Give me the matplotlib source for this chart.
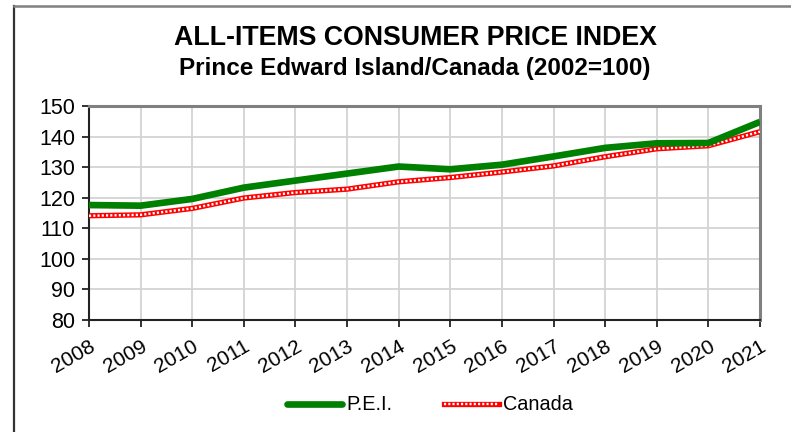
import matplotlib
matplotlib.use("Agg")
import matplotlib.pyplot as plt
from matplotlib.lines import Line2D
import numpy as np

plt.rcParams['font.family'] = ['Liberation Sans', 'DejaVu Sans']

years = ["2008", "2009", "2010", "2011", "2012", "2013", "2014",
         "2015", "2016", "2017", "2018", "2019", "2020", "2021"]
pei = [117.6, 117.4, 119.6, 123.3, 125.6, 127.9, 130.2,
       129.3, 130.8, 133.5, 136.3, 137.8, 137.9, 144.8]
canada = [114.1, 114.4, 116.5, 119.9, 121.7, 122.8, 125.2,
          126.6, 128.4, 130.4, 133.4, 136.0, 137.0, 141.6]
yticks = [80, 90, 100, 110, 120, 130, 140, 150]

W, H = 791, 432
fig = plt.figure(figsize=(W / 100, H / 100), dpi=100)
fig.patch.set_facecolor('white')
ax = fig.add_axes([89 / W, 1 - 320 / H, (760 - 89) / W, (320 - 106) / H])

x = np.arange(len(years))
ax.plot(x, pei, color='#008000', lw=4.8, solid_capstyle='butt', zorder=4)
ax.plot(x, canada, color='#ff0000', lw=3.8, solid_capstyle='butt', zorder=3)
ax.plot(x, canada, color='white', lw=1.7, dashes=(0.9, 0.9), zorder=3.5)

ax.set_xlim(0, len(years) - 1)
ax.set_ylim(80, 150)
ax.set_yticks(yticks)
ax.set_yticklabels([str(v) for v in yticks], fontsize=15.5)
ax.set_xticks(x)
ax.set_xticklabels(years, fontsize=15, rotation=30, ha='right',
                   rotation_mode='anchor')
ax.grid(True, color='#d3d3d3', lw=1.3)
ax.set_axisbelow(True)
ax.tick_params(axis='both', direction='out', length=5, width=1.3,
               color='#222222', pad=5)
ax.tick_params(axis='x', pad=7)
for side in ['left', 'bottom']:
    ax.spines[side].set_color('#222222')
    ax.spines[side].set_linewidth(1.5)
for side in ['top', 'right']:
    ax.spines[side].set_color('#808080')
    ax.spines[side].set_linewidth(2.2)

fig.text(415 / W, 1 - 38 / H, "ALL-ITEMS CONSUMER PRICE INDEX",
         ha='center', va='center', fontsize=19.3, fontweight='bold')
fig.text(415 / W, 1 - 68 / H, "Prince Edward Island/Canada (2002=100)",
         ha='center', va='center', fontsize=17.5, fontweight='bold')

h1 = Line2D([], [], color='#008000', lw=4.8, solid_capstyle='round')
h2a = Line2D([], [], color='#ff0000', lw=3.8)
h2b = Line2D([], [], color='white', lw=1.7, dashes=(0.9, 0.9))
fig.legend([h1, (h2a, h2b)], ["P.E.I.", "Canada"], ncol=2,
           loc='center', bbox_to_anchor=(430 / W, 1 - 405 / H),
           frameon=False, fontsize=14.3, handlelength=2.8,
           handletextpad=0.2, columnspacing=2.6)

# outer frame (partially visible)
fig.add_artist(Line2D([14 / W, 14 / W], [0, 1 - 6 / H], color='#333333',
                      lw=1.6, transform=fig.transFigure))
fig.add_artist(Line2D([14 / W, 1], [1 - 6 / H, 1 - 6 / H], color='#808080',
                      lw=1.8, transform=fig.transFigure))

fig.savefig("out.png", dpi=100, facecolor='white')
